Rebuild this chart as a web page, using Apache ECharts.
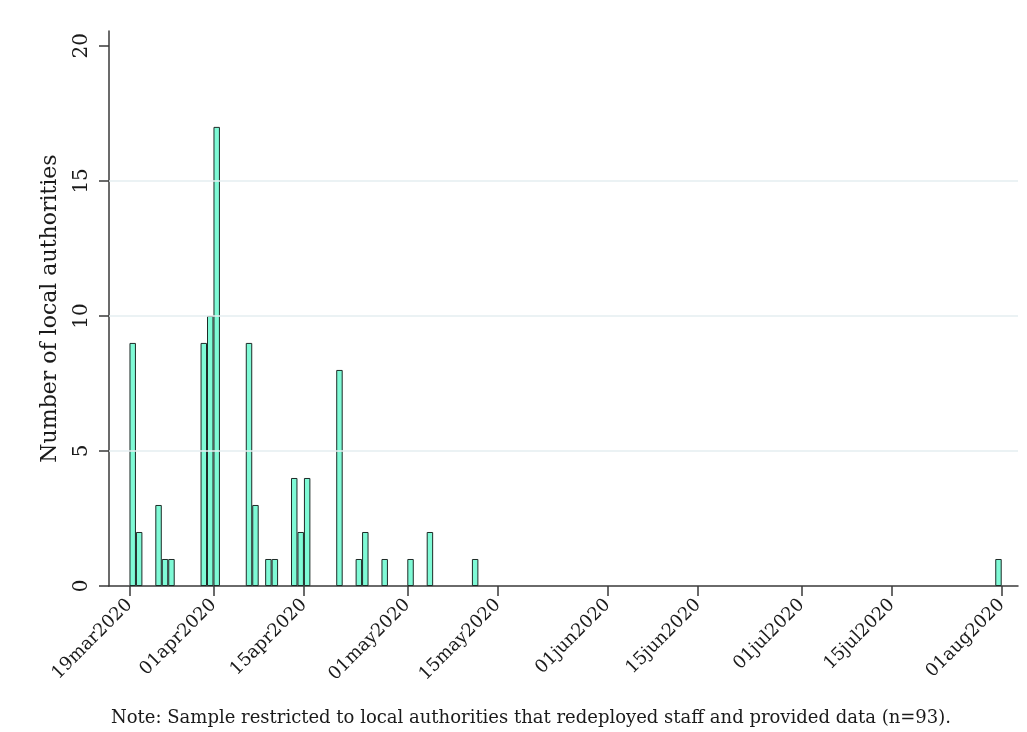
<!DOCTYPE html>
<html>
<head>
<meta charset="utf-8">
<script src="https://cdn.jsdelivr.net/npm/echarts@6/dist/echarts.min.js"></script>
<style>
  html, body { margin: 0; padding: 0; background: #ffffff; }
  #chart { width: 1027px; height: 732px; }
</style>
</head>
<body>
<div id="chart"></div>
<script>
// Redeployment start dates and number of local authorities starting on each date
const dates = [
  '2020-03-19', '2020-03-20', '2020-03-23', '2020-03-24', '2020-03-25',
  '2020-03-30', '2020-03-31', '2020-04-01', '2020-04-06', '2020-04-07',
  '2020-04-09', '2020-04-10', '2020-04-13', '2020-04-14', '2020-04-15',
  '2020-04-20', '2020-04-23', '2020-04-24', '2020-04-27', '2020-05-01',
  '2020-05-04', '2020-05-11', '2020-07-31'
];
const counts = [
  9, 2, 3, 1, 1,
  9, 10, 17, 9, 3,
  1, 1, 4, 2, 4,
  8, 1, 2, 1, 1,
  2, 1, 1
];

// Axis tick positions
const xTickDates = [
  '2020-03-19', '2020-04-01', '2020-04-15', '2020-05-01', '2020-05-15',
  '2020-06-01', '2020-06-15', '2020-07-01', '2020-07-15', '2020-08-01'
];
const yTicks = [0, 5, 10, 15, 20];
const yGridLines = [5, 10, 15];

const DAY = 86400000;
const MONTHS = ['jan','feb','mar','apr','may','jun','jul','aug','sep','oct','nov','dec'];
const toTs = s => {
  const [y, m, d] = s.split('-').map(Number);
  return Date.UTC(y, m - 1, d);
};
const fmtDate = ts => {
  const d = new Date(ts);
  const dd = String(d.getUTCDate()).padStart(2, '0');
  return dd + MONTHS[d.getUTCMonth()] + d.getUTCFullYear();
};

// Each bar covers its whole day, so it is centred at midday
const barData = dates.map((s, i) => [toTs(s) + DAY / 2, counts[i]]);
const xTicks = xTickDates.map(toTs);

const FONT = 'DejaVu Serif';
const TEXT = '#1a1a1a';
const AXIS = '#3a3a3a';

const chart = echarts.init(document.getElementById('chart'), null, { renderer: 'canvas' });
chart.setOption({
  animation: false,
  backgroundColor: '#ffffff',
  textStyle: { fontFamily: FONT, color: TEXT },
  grid: { left: 109, right: 9, top: 31, bottom: 146, containLabel: false },
  xAxis: {
    type: 'value',
    min: toTs('2020-03-19') - 3.17 * DAY,
    max: toTs('2020-08-01') + 2.52 * DAY,
    axisLine: { show: true, lineStyle: { color: AXIS, width: 1.5 } },
    axisTick: {
      show: true, length: 10, inside: false,
      customValues: xTicks,
      lineStyle: { color: AXIS, width: 1.5 }
    },
    axisLabel: {
      customValues: xTicks,
      rotate: 45,
      margin: 16,
      fontFamily: FONT,
      fontSize: 18,
      color: TEXT,
      formatter: v => fmtDate(v)
    },
    splitLine: { show: false }
  },
  yAxis: {
    type: 'value',
    min: 0,
    max: 20.55,
    name: 'Number of local authorities',
    nameLocation: 'middle',
    nameGap: 48,
    nameRotate: 90,
    nameTextStyle: { fontFamily: FONT, fontSize: 22, color: TEXT },
    axisLine: { show: true, lineStyle: { color: AXIS, width: 1.5 } },
    axisTick: {
      show: true, length: 10, inside: false,
      customValues: yTicks,
      lineStyle: { color: AXIS, width: 1.5 }
    },
    axisLabel: {
      customValues: yTicks,
      rotate: 90,
      margin: 17,
      fontFamily: FONT,
      fontSize: 20,
      color: TEXT
    },
    splitLine: { show: false }
  },
  series: [
    {
      // horizontal reference lines behind the bars
      type: 'line',
      data: [],
      z: 1,
      silent: true,
      markLine: {
        silent: true,
        symbol: ['none', 'none'],
        label: { show: false },
        lineStyle: { color: '#e4eef0', width: 1.5, type: 'solid' },
        data: yGridLines.map(v => ({ yAxis: v }))
      }
    },
    {
      type: 'bar',
      data: barData,
      z: 3,
      barWidth: '100%',
      itemStyle: {
        color: '#7ffad6',
        borderColor: '#1e2b27',
        borderWidth: 1
      }
    }
  ],
  graphic: [
    {
      type: 'text',
      x: 531,
      y: 718,
      style: {
        text: 'Note: Sample restricted to local authorities that redeployed staff and provided data (n=93).',
        fontFamily: FONT,
        fontSize: 18,
        fill: TEXT,
        align: 'center',
        verticalAlign: 'middle'
      }
    }
  ]
});
</script>
</body>
</html>
